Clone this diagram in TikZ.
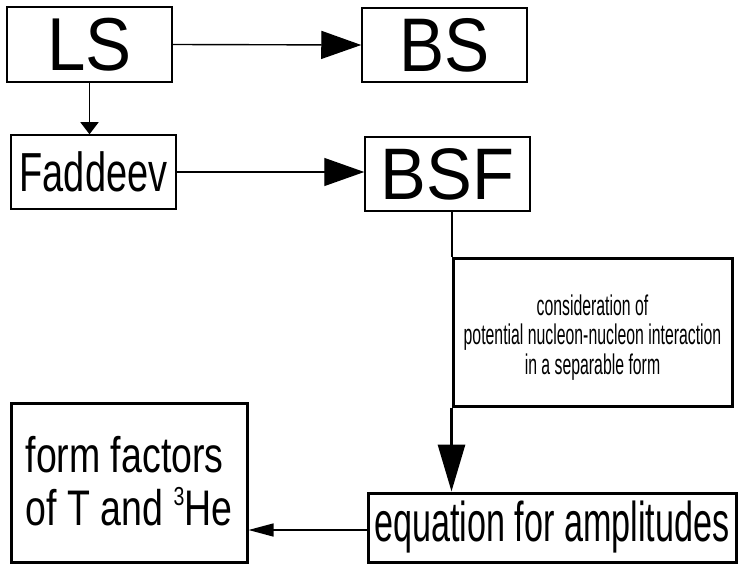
\documentclass[tikz,border=0pt]{standalone}
\usepackage{fontspec}
\setmainfont{Liberation Sans}
\usetikzlibrary{arrows.meta}
\newcommand\narrow[2]{\scalebox{#1}[1]{#2}}
\tikzset{
  box/.style={draw, line width=1.5pt, inner sep=0pt, fill=white},
  thickbox/.style={draw, line width=3pt, inner sep=0pt, fill=white},
  conn/.style={line width=1.4pt},
}
\begin{document}
\begin{tikzpicture}[x=1pt,y=-1pt]
\useasboundingbox (0,0) rectangle (738,564);
\node[box, minimum width=165pt, minimum height=75pt] (LS) at (89.5,44.5)
  {\fontsize{75}{75}\selectfont\narrow{0.92}{LS}};
\node[box, minimum width=165pt, minimum height=74pt] (BS) at (444.5,45)
  {\fontsize{76}{76}\selectfont\narrow{0.89}{BS}};
\node[box, minimum width=165pt, minimum height=74pt] (Fad) at (93.5,172)
  {\fontsize{55}{55}\selectfont\narrow{0.69}{Faddeev}};
\node[box, minimum width=165pt, minimum height=74pt] (BSF) at (447.5,174)
  {\fontsize{73}{73}\selectfont\narrow{0.94}{BSF}};
\node[thickbox, minimum width=279pt, minimum height=148pt] (cons) at (592.5,332)
  {\fontsize{28.5}{29}\selectfont\narrow{0.555}{\begin{tabular}{@{}c@{}}\rule{0pt}{34pt}consideration of\\potential nucleon-nucleon interaction\\in a separable form\end{tabular}}};
\node[thickbox, minimum width=368pt, minimum height=69pt] (eq) at (552,527.5)
  {\fontsize{56}{56}\selectfont\narrow{0.61}{equation for amplitudes}};
\node[thickbox, minimum width=236pt, minimum height=159pt] (form) at (129,482.5)
  {\fontsize{50}{50}\selectfont\narrow{0.75}{\begin{tabular}{@{}l@{}}\rule{0pt}{48pt}form factors\\of T and \raisebox{20pt}{\fontsize{26}{26}\selectfont 3}He\end{tabular}}};
\draw[conn, -{Triangle[length=40pt,width=28pt]}] (LS.east) -- (BS.west);
\draw[conn, -{Triangle[length=12pt,width=18pt]}] (LS.south) -- (Fad.north -| LS.south);
\draw[conn, -{Triangle[length=40pt,width=28pt]}] (Fad.east) -- (Fad.east -| BSF.west);
\draw[line width=2pt] (BSF.south -| cons.west) -- (cons.north west);
\draw[line width=3pt, -{Triangle[length=47pt,width=27pt]}] (cons.south west) -- (eq.north -| cons.west);
\draw[conn, -{Triangle[length=25pt,width=13pt]}] ([yshift=-2.5pt]eq.west) -- ([yshift=-2.5pt]eq.west -| form.east);
\end{tikzpicture}
\end{document}
